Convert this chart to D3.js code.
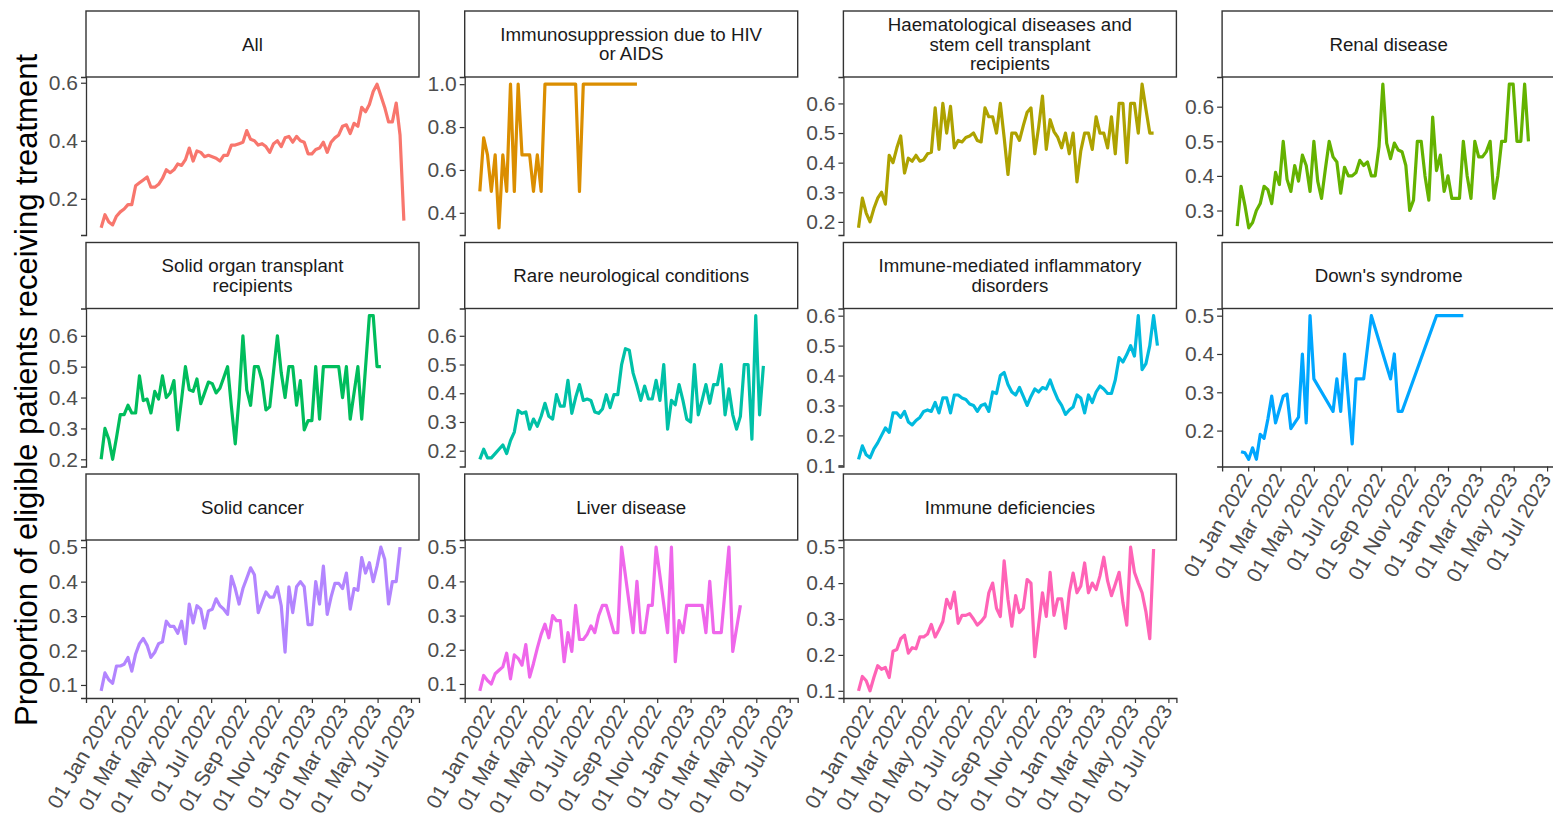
<!DOCTYPE html>
<html>
<head>
<meta charset="utf-8">
<script src="https://cdn.jsdelivr.net/npm/d3@7"></script>
<style>
  body { margin: 0; background: #fff; }
  svg { font-family: "Liberation Sans", Arial, sans-serif; }
</style>
</head>
<body>
<div id="chart-area"></div>
<script>
/*
 * Proportion of eligible patients receiving treatment, by high-risk group
 * weekly values, one array per facet (null = no row that week)
 */

// weeks
const firstWeek = "2021-12-12";
const nWeeks = 80;

// x ticks
const xTickDates = ["2022-01-01", "2022-03-01", "2022-05-01", "2022-07-01", "2022-09-01",
                    "2022-11-01", "2023-01-01", "2023-03-01", "2023-05-01", "2023-07-01"];

// facet names (as in strips)
const groups = [
	"All",
	"Immunosuppression due to HIV or AIDS",
	"Haematological diseases and stem cell transplant recipients",
	"Renal disease",
	"Solid organ transplant recipients",
	"Rare neurological conditions",
	"Immune-mediated inflammatory disorders",
	"Down's syndrome",
	"Solid cancer",
	"Liver disease",
	"Immune deficiencies"
];

const stripLines = [
	["All"],
	["Immunosuppression due to HIV", "or AIDS"],
	["Haematological diseases and", "stem cell transplant", "recipients"],
	["Renal disease"],
	["Solid organ transplant", "recipients"],
	["Rare neurological conditions"],
	["Immune-mediated inflammatory", "disorders"],
	["Down's syndrome"],
	["Solid cancer"],
	["Liver disease"],
	["Immune deficiencies"]
];

// ggplot hue palette, 11 levels
const colors = ["#F8766D", "#DB8E00", "#AEA200", "#64B200", "#00BD5C", "#00C1A7",
                "#00BADE", "#00A6FF", "#B385FF", "#EF67EB", "#FF63B6"];

// y tick values per facet
const yTicks = [
	[0.2, 0.4, 0.6],
	[0.4, 0.6, 0.8, 1.0],
	[0.2, 0.3, 0.4, 0.5, 0.6],
	[0.3, 0.4, 0.5, 0.6],
	[0.2, 0.3, 0.4, 0.5, 0.6],
	[0.2, 0.3, 0.4, 0.5, 0.6],
	[0.1, 0.2, 0.3, 0.4, 0.5, 0.6],
	[0.2, 0.3, 0.4, 0.5],
	[0.1, 0.2, 0.3, 0.4, 0.5],
	[0.1, 0.2, 0.3, 0.4, 0.5],
	[0.1, 0.2, 0.3, 0.4, 0.5]
];

/******************************
*			VALUES			  *
******************************/
const allVals = [0.10,0.145,0.12,0.11,0.14,0.155,0.165,0.18,0.18,0.245,
	0.255,0.265,0.275,0.24,0.24,0.25,0.27,0.30,0.29,0.30,
	0.32,0.315,0.335,0.375,0.33,0.365,0.36,0.345,0.35,0.345,
	0.34,0.33,0.35,0.35,0.385,0.385,0.39,0.395,0.435,0.405,
	0.40,0.385,0.39,0.38,0.36,0.39,0.40,0.38,0.41,0.415,
	0.395,0.415,0.40,0.395,0.355,0.355,0.37,0.375,0.395,0.36,
	0.395,0.41,0.42,0.45,0.455,0.425,0.46,0.45,0.515,0.50,
	0.525,0.57,0.595,0.555,0.515,0.465,0.465,0.53,0.42,0.125];

const hivVals = [0.5,0.75,0.67,0.5,0.67,0.33,0.67,0.5,1,0.5,
	1,0.67,0.67,0.67,0.5,0.67,0.5,1,1,1,
	1,1,1,1,1,1,0.5,1,1,1,
	1,1,1,1,1,1,1,1,1,1,
	1,1];

const haemVals = [0.18,0.28,0.23,0.20,0.245,0.28,0.30,0.26,0.425,0.40,
	0.45,0.49,0.365,0.415,0.405,0.425,0.405,0.41,0.43,0.435,
	0.585,0.445,0.60,0.50,0.59,0.45,0.475,0.47,0.485,0.49,
	0.50,0.475,0.47,0.585,0.555,0.555,0.50,0.60,0.485,0.36,
	0.50,0.50,0.475,0.525,0.57,0.585,0.43,0.52,0.625,0.445,
	0.545,0.505,0.485,0.45,0.50,0.43,0.50,0.335,0.44,0.50,
	0.50,0.445,0.555,0.50,0.50,0.45,0.555,0.43,0.60,0.60,
	0.40,0.60,0.60,0.50,0.665,0.58,0.50,0.50];

const renalVals = [0.255,0.37,0.315,0.25,0.265,0.30,0.32,0.37,0.36,0.32,
	0.41,0.375,0.50,0.39,0.355,0.43,0.385,0.46,0.43,0.355,
	0.50,0.385,0.335,0.42,0.50,0.455,0.44,0.35,0.425,0.40,
	0.40,0.41,0.445,0.43,0.44,0.40,0.40,0.485,0.665,0.495,
	0.45,0.495,0.475,0.47,0.43,0.30,0.33,0.50,0.50,0.40,
	0.33,0.57,0.415,0.46,0.355,0.40,0.335,0.335,0.335,0.50,
	0.40,0.335,0.50,0.455,0.455,0.47,0.50,0.335,0.40,0.50,
	0.50,0.665,0.665,0.50,0.50,0.665,0.50];

const solidOrganVals = [0.20,0.30,0.265,0.20,0.27,0.345,0.345,0.375,0.35,0.35,
	0.47,0.39,0.395,0.35,0.42,0.395,0.47,0.40,0.415,0.455,
	0.295,0.395,0.50,0.425,0.42,0.46,0.38,0.415,0.45,0.445,
	0.415,0.43,0.465,0.50,0.37,0.25,0.40,0.60,0.425,0.375,
	0.50,0.50,0.455,0.36,0.37,null,0.60,0.48,0.40,0.50,
	0.50,0.375,0.455,0.295,0.325,0.325,0.50,0.33,0.50,0.50,
	0.50,0.50,0.50,0.40,0.50,0.33,null,0.50,0.33,null,
	0.665,0.665,0.50,0.50];

const rareNeuroVals = [0.17,0.205,0.175,0.175,0.19,0.205,0.22,0.19,0.235,0.265,
	0.34,0.33,0.335,0.275,0.31,0.285,0.32,0.365,0.32,0.31,
	0.395,0.355,0.355,0.445,0.33,0.385,0.43,0.375,0.38,0.375,
	0.335,0.33,0.345,0.395,0.35,0.395,0.395,0.50,0.555,0.55,
	0.47,0.425,0.375,0.425,0.38,0.38,0.445,0.375,0.50,0.275,
	0.375,0.36,0.43,0.375,0.31,0.30,0.50,0.325,0.375,0.43,
	0.365,0.43,0.43,0.50,0.325,0.415,0.325,0.275,0.32,0.50,
	0.50,0.24,0.67,0.325,0.495];

const imidVals = [0.12,0.165,0.135,0.125,0.155,0.175,0.20,0.225,0.21,0.275,
	0.275,0.26,0.28,0.245,0.235,0.25,0.26,0.28,0.285,0.28,
	0.31,0.275,0.325,0.325,0.275,0.335,0.335,0.325,0.32,0.305,
	0.30,0.28,0.30,0.305,0.28,0.345,0.34,0.40,0.41,0.37,
	0.345,0.335,0.36,0.33,0.30,0.33,0.355,0.345,0.36,0.355,
	0.385,0.35,0.32,0.30,0.27,0.285,0.295,0.335,0.325,0.275,
	0.335,0.31,0.345,0.365,0.355,0.34,0.34,0.385,0.46,0.445,
	0.47,0.50,0.465,0.60,0.42,0.44,0.50,0.60,0.50];

const downsVals = [null,0.145,0.142,0.125,0.155,0.125,0.19,0.18,0.23,0.29,
	0.22,0.255,0.29,0.295,0.205,0.22,0.235,0.40,0.22,0.50,
	0.335,null,null,null,null,0.25,0.335,0.25,0.40,null,
	0.165,0.335,0.335,0.335,null,0.50,null,null,null,null,
	0.335,0.40,0.25,0.25,null,null,null,null,null,null,
	null,null,0.50,null,null,null,null,null,null,0.50];

const solidCancerVals = [0.083,0.135,0.115,0.105,0.155,0.155,0.16,0.18,0.14,0.19,
	0.22,0.235,0.215,0.18,0.195,0.22,0.225,0.285,0.27,0.27,
	0.25,0.285,0.22,0.335,0.28,0.33,0.32,0.265,0.315,0.32,
	0.35,0.33,0.32,0.305,0.415,0.38,0.335,0.38,0.41,0.44,
	0.42,0.31,0.34,0.37,0.355,0.355,0.385,0.33,0.195,0.385,
	0.31,0.385,0.40,0.385,0.275,0.275,0.40,0.335,0.445,0.305,
	0.355,0.395,0.395,0.38,0.425,0.32,0.38,0.375,0.47,0.425,
	0.455,0.40,0.445,0.50,0.465,0.335,0.40,0.40,0.50];

const liverVals = [0.08,0.125,0.11,0.10,0.13,0.14,0.15,0.19,0.115,0.185,
	0.175,0.155,0.215,0.12,0.16,0.205,0.245,0.275,0.235,0.30,
	0.285,0.285,0.165,0.25,0.195,0.33,0.23,0.23,0.245,0.27,
	0.25,0.30,0.33,0.33,0.29,0.25,0.25,0.50,null,null,
	0.25,0.40,0.25,0.25,0.33,0.33,0.50,null,null,0.25,
	0.50,0.165,0.285,0.25,0.33,0.33,0.33,0.33,0.33,0.25,
	0.40,0.25,0.25,0.25,null,0.50,0.195,null,0.33];

const immuneDefVals = [0.10,0.14,0.128,0.10,0.137,0.17,0.16,0.165,0.137,0.21,
	0.215,0.245,0.255,0.205,0.22,0.217,0.25,0.25,0.258,0.285,
	0.25,0.27,0.293,0.355,0.33,0.375,0.288,0.31,0.31,0.315,
	0.30,0.283,0.293,0.307,0.373,0.40,0.33,0.307,0.462,0.355,
	0.28,0.365,0.318,0.33,0.41,0.40,0.195,0.283,0.373,0.307,
	0.43,0.31,0.356,0.356,0.274,0.373,0.428,0.373,0.392,0.456,
	0.373,0.40,0.382,0.42,0.472,0.406,0.365,0.397,0.43,0.345,
	0.283,0.50,0.43,0.40,0.373,0.32,0.245,0.495];

const seriesVals = [allVals, hivVals, haemVals, renalVals, solidOrganVals, rareNeuroVals,
                    imidVals, downsVals, solidCancerVals, liverVals, immuneDefVals];

/******************************
*	DIMENSIONS AND MARGINS	  *
******************************/
const W = 1553, H = 828;
const left0 = 86, top0 = 11;
const panelW = 333, stripH = 66, panelH = 158;
const colStep = 378.7, rowStep = 231.5;
const nCol = 4;

var svg = d3.select("#chart-area")
	.append("svg")
		.attr("width", W)
		.attr("height", H);

var parseDate = d3.timeParse("%Y-%m-%d");
var week0 = parseDate(firstWeek);
var dates = d3.range(nWeeks).map(function(i) { return d3.timeDay.offset(week0, 7 * i); });

// shared x scale, 5% expansion like ggplot
var xExt = d3.extent(dates);
var xPad = (xExt[1] - xExt[0]) * 0.05;
var x = d3.scaleTime()
	.domain([new Date(+xExt[0] - xPad), new Date(+xExt[1] + xPad)])
	.range([0, panelW]);

var line = d3.line()
	.x(function(d) { return x(d.date); })
	.y(function(d) { return d.yy; });

/******************************
*			FACETS			  *
******************************/
groups.forEach(function(name, k) {
	var col = k % nCol, row = Math.floor(k / nCol);
	var g = svg.append("g")
		.attr("transform", "translate(" + (left0 + col * colStep) + ", " + (top0 + row * rowStep) + ")");

	// strip
	g.append("rect")
		.attr("x", 0).attr("y", 0)
		.attr("width", panelW).attr("height", stripH)
		.attr("fill", "#fff")
		.attr("stroke", "#333")
		.attr("stroke-width", 1.4);

	var lines = stripLines[k];
	var st = g.append("text")
		.attr("text-anchor", "middle")
		.attr("font-size", 18.7)
		.attr("fill", "#1a1a1a");
	lines.forEach(function(l, j) {
		st.append("tspan")
			.attr("x", panelW / 2)
			.attr("y", stripH / 2 + 6.5 + (j - (lines.length - 1) / 2) * 19.5)
			.text(l);
	});

	// data
	var pts = seriesVals[k]
		.map(function(v, i) { return { date: dates[i], v: v }; })
		.filter(function(d) { return d.v != null; });

	var yExt = d3.extent(pts, function(d) { return d.v; });
	var yPad = (yExt[1] - yExt[0]) * 0.05;
	var y = d3.scaleLinear()
		.domain([yExt[0] - yPad, yExt[1] + yPad])
		.range([stripH + panelH, stripH]);

	// y-axis
	var yAxis = g.append("g")
		.call(d3.axisLeft(y)
			.tickValues(yTicks[k])
			.tickFormat(d3.format(".1f"))
			.tickSizeOuter(0)
			.tickSize(5)
			.tickPadding(3));
	yAxis.select(".domain").attr("stroke", "#333").attr("stroke-width", 1.3);
	yAxis.selectAll(".tick line").attr("stroke", "#333").attr("stroke-width", 1.2);
	yAxis.selectAll(".tick text")
		.attr("fill", "#4d4d4d")
		.attr("font-size", 21)
		.style("font-family", "'Liberation Sans', Arial, sans-serif");

	// x-axis on bottom facet of each column
	var isBottom = row === 2 || (col === 3 && row === 1);
	if (isBottom) {
		var xAxis = g.append("g")
			.attr("transform", "translate(0, " + (stripH + panelH) + ")")
			.call(d3.axisBottom(x)
				.tickValues(xTickDates.map(parseDate))
				.tickFormat(d3.timeFormat("%d %b %Y"))
				.tickSizeOuter(0)
				.tickSize(5));
		xAxis.select(".domain").attr("stroke", "#333").attr("stroke-width", 1.3);
		xAxis.selectAll(".tick line").attr("stroke", "#333").attr("stroke-width", 1.2);
		xAxis.selectAll(".tick text")
			.attr("fill", "#4d4d4d")
			.attr("font-size", 21)
			.style("font-family", "'Liberation Sans', Arial, sans-serif")
			.attr("text-anchor", "end")
			.attr("x", 0)
			.attr("y", 0)
			.attr("dy", "0.4em")
			.attr("transform", "translate(-3, 8) rotate(-60)");
	}

	// line
	pts.forEach(function(d) { d.yy = y(d.v); });
	g.append("path")
		.datum(pts)
		.attr("fill", "none")
		.attr("stroke", colors[k])
		.attr("stroke-width", 3.2)
		.attr("stroke-linejoin", "round")
		.attr("d", line);
});

/******************************
*		  Y-LABEL			  *
******************************/
svg.append("text")
	.attr("transform", "translate(37, 390) rotate(-90)")
	.attr("text-anchor", "middle")
	.attr("font-size", 31)
	.attr("fill", "#000")
	.text("Proportion of eligible patients receiving treatment");
</script>
</body>
</html>
